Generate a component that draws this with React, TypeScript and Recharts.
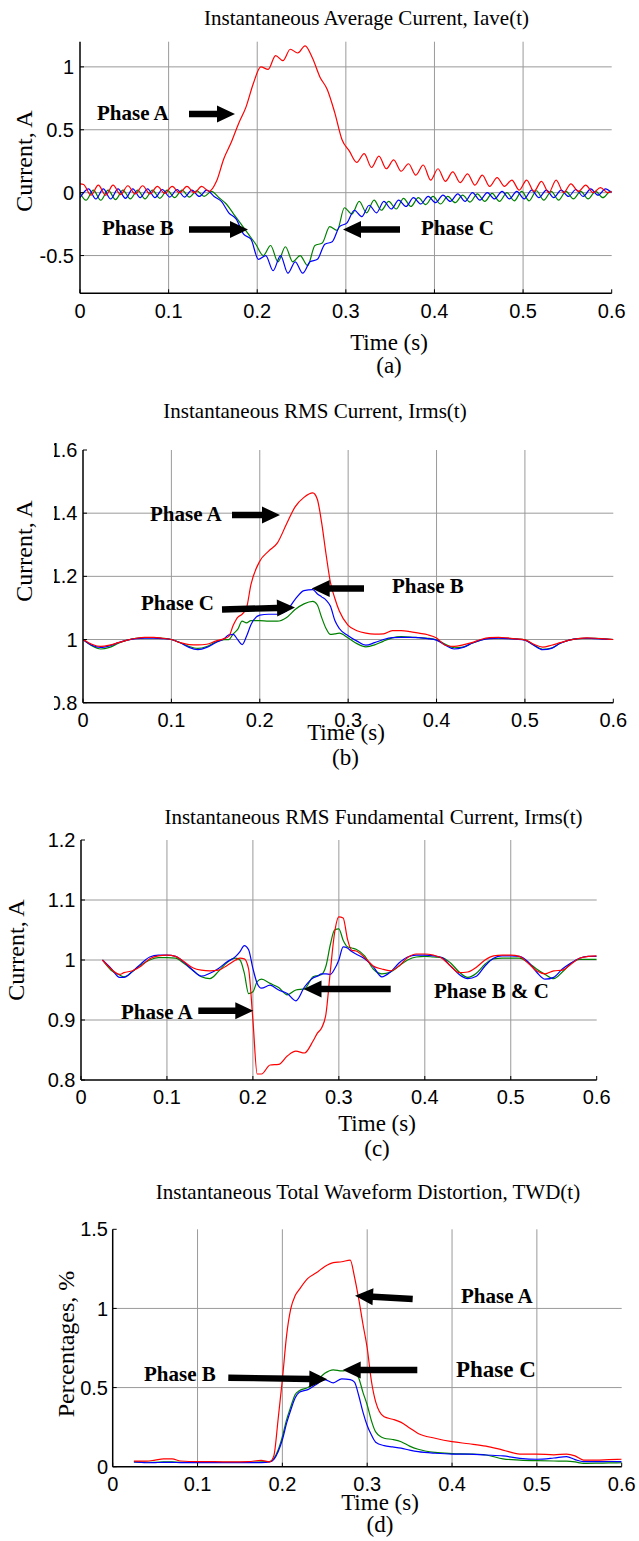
import React from "react";
import { LineChart, Line, XAxis, YAxis, ReferenceLine } from "recharts";

const W = 639;
const serif = "'Liberation Serif', 'Times New Roman', serif";
const sans = "'Liberation Sans', Arial, sans-serif";
const RED = "#ff0000";
const BLUE = "#0000ff";
const GREEN = "#008000";

const xTicks = [0, 0.1, 0.2, 0.3, 0.4, 0.5, 0.6];
const xGrid = [0.1, 0.2, 0.3, 0.4, 0.5];

// (a) Iave(t): ripple sampled at each phase's own peaks / troughs, [t, value]
const iaveA: [number, number][] = [
  [0, 0.07], [0.004, 0.065], [0.0123, -0.02], [0.0207, 0.06], [0.029, -0.02], [0.0373, 0.06], [0.0457, -0.015], [0.054, 0.055], [0.0623, -0.01], [0.0707, 0.055],
  [0.079, -0.01], [0.0873, 0.05], [0.0957, -0.005], [0.104, 0.05], [0.1123, 0.0], [0.1207, 0.05], [0.129, 0.0], [0.1373, 0.05], [0.1457, 0.01], [0.154, 0.09],
  [0.1623, 0.27], [0.1707, 0.4], [0.179, 0.55], [0.1873, 0.68], [0.1957, 0.87], [0.204, 1.0], [0.2123, 0.98], [0.2207, 1.09], [0.229, 1.05], [0.2373, 1.14],
  [0.2457, 1.11], [0.254, 1.167], [0.2623, 1.07], [0.2707, 0.92], [0.279, 0.82], [0.2873, 0.64], [0.2957, 0.42], [0.304, 0.33], [0.3123, 0.24], [0.3207, 0.31],
  [0.329, 0.2], [0.3373, 0.29], [0.3457, 0.19], [0.354, 0.26], [0.3623, 0.17], [0.3707, 0.23], [0.379, 0.14], [0.3873, 0.22], [0.3957, 0.1], [0.404, 0.19],
  [0.4123, 0.09], [0.4207, 0.165], [0.429, 0.08], [0.4373, 0.15], [0.4457, 0.06], [0.454, 0.14], [0.4623, 0.05], [0.4707, 0.12], [0.479, 0.05], [0.4873, 0.1],
  [0.4957, 0.02], [0.504, 0.1], [0.5123, 0.01], [0.5207, 0.09], [0.529, 0.0], [0.5373, 0.1], [0.5457, 0.0], [0.554, 0.07], [0.5623, 0.01], [0.5707, 0.06],
  [0.579, 0.0], [0.5873, 0.04], [0.5957, 0.0], [0.6, 0.01],
];
const iaveB: [number, number][] = [
  [0, -0.04], [0.0096, 0.03], [0.0179, -0.05], [0.0263, 0.03], [0.0346, -0.05], [0.0429, 0.03], [0.0513, -0.045], [0.0596, 0.03], [0.0679, -0.04], [0.0763, 0.03],
  [0.0846, -0.04], [0.0929, 0.025], [0.1013, -0.035], [0.1096, 0.025], [0.1179, -0.035], [0.1263, 0.02], [0.1346, -0.03], [0.1429, 0.02], [0.1513, -0.03], [0.1596, -0.07],
  [0.1679, -0.16], [0.1763, -0.21], [0.1846, -0.33], [0.1929, -0.37], [0.2013, -0.53], [0.2096, -0.5], [0.2179, -0.62], [0.2263, -0.5], [0.2346, -0.64], [0.2429, -0.55],
  [0.2513, -0.64], [0.2596, -0.55], [0.2679, -0.53], [0.2763, -0.41], [0.2846, -0.39], [0.2929, -0.27], [0.3013, -0.24], [0.3096, -0.14], [0.3179, -0.19], [0.3263, -0.1],
  [0.3346, -0.16], [0.3429, -0.07], [0.3513, -0.13], [0.3596, -0.06], [0.3679, -0.11], [0.3763, -0.04], [0.3846, -0.09], [0.3929, -0.03], [0.4013, -0.08], [0.4096, -0.02],
  [0.4179, -0.07], [0.4263, -0.01], [0.4346, -0.07], [0.4429, 0.0], [0.4513, -0.06], [0.4596, 0.0], [0.4679, -0.05], [0.4763, 0.01], [0.4846, -0.05], [0.4929, 0.01],
  [0.5013, -0.05], [0.5096, 0.02], [0.5179, -0.04], [0.5263, 0.02], [0.5346, -0.04], [0.5429, 0.02], [0.5513, -0.03], [0.5596, 0.025], [0.5679, -0.03], [0.5763, 0.03],
  [0.5846, -0.02], [0.5929, 0.03], [0.6, 0.0],
];
const iaveC: [number, number][] = [
  [0, 0.0], [0.0068, -0.06], [0.0151, 0.02], [0.0234, -0.06], [0.0318, 0.02], [0.0401, -0.055], [0.0484, 0.02], [0.0568, -0.05], [0.0651, 0.02], [0.0734, -0.05],
  [0.0818, 0.02], [0.0901, -0.045], [0.0984, 0.02], [0.1068, -0.04], [0.1151, 0.02], [0.1234, -0.035], [0.1318, 0.015], [0.1401, -0.03], [0.1484, 0.01], [0.1568, -0.04],
  [0.1651, -0.09], [0.1734, -0.17], [0.1818, -0.25], [0.1901, -0.33], [0.1984, -0.41], [0.2068, -0.5], [0.2151, -0.42], [0.2234, -0.55], [0.2318, -0.43], [0.2401, -0.55],
  [0.2484, -0.5], [0.2568, -0.58], [0.2651, -0.42], [0.2734, -0.4], [0.2818, -0.27], [0.2901, -0.3], [0.2984, -0.12], [0.3068, -0.17], [0.3151, -0.07], [0.3234, -0.16],
  [0.3318, -0.06], [0.3401, -0.14], [0.3484, -0.07], [0.3568, -0.13], [0.3651, -0.045], [0.3734, -0.11], [0.3818, -0.04], [0.3901, -0.095], [0.3984, -0.03], [0.4068, -0.09],
  [0.4151, -0.03], [0.4234, -0.08], [0.4318, -0.02], [0.4401, -0.075], [0.4484, -0.01], [0.4568, -0.07], [0.4651, -0.005], [0.4734, -0.07], [0.4818, 0.0], [0.4901, -0.065],
  [0.4984, 0.01], [0.5068, -0.065], [0.5151, 0.015], [0.5234, -0.06], [0.5318, 0.01], [0.5401, -0.06], [0.5484, 0.01], [0.5568, -0.05], [0.5651, 0.01], [0.5734, -0.05],
  [0.5818, 0.01], [0.5901, -0.04], [0.5984, 0.01], [0.6, 0.005],
];

// (b) Irms(t)
const tRms = [
  0, 0.01, 0.02, 0.03, 0.04, 0.05, 0.06, 0.07, 0.08, 0.09,
  0.1, 0.11, 0.12, 0.13, 0.14, 0.15, 0.16, 0.165, 0.17, 0.175,
  0.18, 0.185, 0.19, 0.2, 0.21, 0.22, 0.23, 0.24, 0.25, 0.26,
  0.265, 0.27, 0.275, 0.28, 0.285, 0.29, 0.3, 0.31, 0.32, 0.33,
  0.34, 0.35, 0.36, 0.37, 0.38, 0.39, 0.4, 0.41, 0.42, 0.43,
  0.44, 0.45, 0.46, 0.47, 0.48, 0.49, 0.5, 0.51, 0.52, 0.53,
  0.54, 0.55, 0.56, 0.57, 0.58, 0.59, 0.6,
];
const rmsA = [
  1.0, 0.985, 0.978, 0.982, 0.99, 0.998, 1.004, 1.007, 1.007, 1.004,
  1.0, 0.99, 0.984, 0.983, 0.985, 0.995, 1.003, 1.01, 1.045, 1.07,
  1.08, 1.1, 1.174, 1.248, 1.28, 1.306, 1.364, 1.42, 1.45, 1.464,
  1.445, 1.37, 1.27, 1.18, 1.13, 1.09, 1.045, 1.028, 1.02, 1.017,
  1.018, 1.028, 1.028, 1.025, 1.02, 1.015, 1.005, 0.982, 0.978, 0.983,
  0.99, 1.0, 1.006, 1.007, 1.005, 1.002, 0.999, 0.985, 0.976, 0.982,
  0.99, 0.998, 1.003, 1.005, 1.004, 1.002, 1.0,
];
const rmsB = [
  1.0, 0.982, 0.975, 0.98, 0.99, 0.998, 1.003, 1.004, 1.004, 1.003,
  1.0, 0.99, 0.975, 0.968, 0.975, 0.99, 1.003, 1.015, 1.016, 1.0,
  0.984, 1.01, 1.047, 1.077, 1.08, 1.08, 1.09, 1.127, 1.155, 1.158,
  1.145, 1.135, 1.125, 1.105, 1.06, 1.035, 1.012, 0.995, 0.982, 0.99,
  1.0, 1.006, 1.007, 1.007, 1.006, 1.003, 0.998, 0.982, 0.97, 0.975,
  0.988, 0.998, 1.003, 1.004, 1.003, 1.001, 0.998, 0.982, 0.968, 0.972,
  0.988, 0.998, 1.003, 1.004, 1.003, 1.001, 1.0,
];
const rmsC = [
  1.0, 0.98, 0.97, 0.975, 0.988, 0.998, 1.004, 1.006, 1.006, 1.004,
  1.0, 0.99, 0.978, 0.972, 0.978, 0.992, 1.0, 1.0, 1.018, 1.032,
  1.058, 1.053, 1.06, 1.06, 1.058, 1.058, 1.069, 1.095, 1.113, 1.121,
  1.11, 1.07, 1.035, 1.016, 1.018, 1.02, 1.005, 0.987, 0.977, 0.983,
  0.995, 1.005, 1.009, 1.008, 1.006, 1.004, 0.999, 0.985, 0.974, 0.976,
  0.988, 0.998, 1.004, 1.005, 1.004, 1.002, 0.999, 0.983, 0.969, 0.973,
  0.988, 0.998, 1.003, 1.004, 1.004, 1.002, 1.0,
];

// (c) fundamental Irms(t)
const tFund = [
  0.025, 0.035, 0.045, 0.05, 0.06, 0.07, 0.08, 0.09, 0.1, 0.11,
  0.12, 0.13, 0.14, 0.15, 0.16, 0.17, 0.18, 0.185, 0.19, 0.195,
  0.2, 0.205, 0.21, 0.22, 0.23, 0.24, 0.25, 0.26, 0.27, 0.275,
  0.28, 0.285, 0.29, 0.295, 0.3, 0.305, 0.31, 0.315, 0.32, 0.33,
  0.34, 0.35, 0.36, 0.37, 0.38, 0.39, 0.4, 0.41, 0.42, 0.43,
  0.44, 0.45, 0.46, 0.47, 0.48, 0.49, 0.5, 0.51, 0.52, 0.53,
  0.54, 0.55, 0.56, 0.57, 0.58, 0.59, 0.6,
];
const fundA = [
  1.0, 0.985, 0.976, 0.979, 0.982, 0.99, 1.002, 1.007, 1.008, 1.006,
  0.997, 0.987, 0.983, 0.982, 0.983, 0.991, 1.0, 1.003, 1.002, 0.985,
  0.9, 0.81, 0.81, 0.825, 0.826, 0.84, 0.848, 0.845, 0.865, 0.878,
  0.887, 0.91, 0.98, 1.045, 1.072, 1.07, 1.035, 1.016, 1.015, 1.004,
  0.99, 0.985, 0.982, 0.99, 1.004, 1.01, 1.01, 1.008, 1.003, 0.99,
  0.979, 0.98, 0.988, 1.0, 1.007, 1.008, 1.008, 1.006, 0.995, 0.982,
  0.977, 0.982, 0.983, 0.993, 1.003, 1.006, 1.007,
];
const fundB = [
  1.0, 0.986, 0.971, 0.971, 0.981, 0.994, 1.005, 1.008, 1.008, 1.006,
  0.996, 0.983, 0.973, 0.978, 0.986, 0.997, 1.006, 1.014, 1.024, 1.017,
  0.986, 0.961, 0.953, 0.958, 0.95, 0.944, 0.932, 0.955, 0.97, 0.973,
  0.977, 0.977, 0.976, 0.985, 1.0, 1.022, 1.02, 1.014, 1.01, 1.002,
  0.989, 0.972, 0.98, 0.995, 1.005, 1.008, 1.008, 1.007, 1.004, 0.99,
  0.976, 0.969, 0.973, 0.99, 1.003, 1.007, 1.007, 1.006, 0.997, 0.98,
  0.968, 0.971, 0.985, 0.995, 1.003, 1.006, 1.006,
];
const fundC = [
  1.0, 0.983, 0.975, 0.972, 0.981, 0.992, 1.0, 1.004, 1.004, 1.003,
  0.994, 0.983, 0.972, 0.969, 0.981, 0.996, 1.003, 1.0, 0.978, 0.944,
  0.947, 0.964, 0.968, 0.961, 0.954, 0.942, 0.95, 0.952, 0.972, 0.974,
  0.976, 0.99, 1.025, 1.05, 1.052, 1.033, 1.022, 1.02, 1.018, 1.007,
  0.985, 0.977, 0.98, 0.99, 1.0, 1.005, 1.006, 1.005, 1.004, 0.995,
  0.98, 0.971, 0.978, 0.993, 1.002, 1.003, 1.003, 1.003, 0.996, 0.985,
  0.976, 0.969, 0.98, 0.994, 1.001, 1.001, 1.001,
];

// (d) TWD(t), %
const tTwd = [
  0.025, 0.04, 0.05, 0.06, 0.07, 0.08, 0.1, 0.12, 0.14, 0.16,
  0.175, 0.185, 0.19, 0.195, 0.2, 0.205, 0.21, 0.215, 0.22, 0.23,
  0.24, 0.25, 0.26, 0.27, 0.28, 0.285, 0.29, 0.295, 0.3, 0.305,
  0.31, 0.32, 0.33, 0.34, 0.35, 0.36, 0.38, 0.4, 0.42, 0.44,
  0.46, 0.48, 0.5, 0.52, 0.535, 0.545, 0.555, 0.57, 0.585, 0.6,
];
const twdA = [
  0.035, 0.035, 0.042, 0.049, 0.049, 0.036, 0.032, 0.032, 0.03, 0.032,
  0.04, 0.03, 0.07, 0.3, 0.55, 0.83, 1.0, 1.08, 1.12, 1.19,
  1.225, 1.265, 1.29, 1.295, 1.305, 1.2, 1.06, 0.9, 0.75, 0.54,
  0.41, 0.315, 0.3, 0.28, 0.245, 0.21, 0.18, 0.158, 0.145, 0.13,
  0.105, 0.08, 0.08, 0.075, 0.08, 0.068, 0.042, 0.042, 0.045, 0.047,
];
const twdB = [
  0.03, 0.025, 0.026, 0.027, 0.027, 0.026, 0.026, 0.026, 0.026, 0.026,
  0.026, 0.03, 0.047, 0.095, 0.17, 0.275, 0.36, 0.434, 0.47, 0.487,
  0.52, 0.55, 0.53, 0.555, 0.55, 0.535, 0.45, 0.345, 0.26, 0.2,
  0.155, 0.133, 0.125, 0.117, 0.105, 0.095, 0.085, 0.08, 0.08, 0.074,
  0.068, 0.053, 0.047, 0.055, 0.064, 0.045, 0.032, 0.032, 0.033, 0.032,
];
const twdC = [
  0.03, 0.028, 0.028, 0.03, 0.03, 0.028, 0.028, 0.028, 0.028, 0.028,
  0.03, 0.032, 0.053, 0.106, 0.19, 0.297, 0.38, 0.455, 0.48, 0.5,
  0.54, 0.59, 0.612, 0.605, 0.612, 0.6, 0.56, 0.47, 0.39, 0.29,
  0.22, 0.18, 0.172, 0.158, 0.13, 0.11, 0.09, 0.083, 0.08, 0.074,
  0.05, 0.042, 0.038, 0.036, 0.035, 0.03, 0.021, 0.022, 0.024, 0.025,
];

const pairs = (pts: [number, number][]) => pts.map(([t, v]) => ({ t, v }));
const rows = (t: number[], a: number[], b: number[], c: number[]) =>
  t.map((x, i) => ({ t: x, a: a[i], b: b[i], c: c[i] }));

const tickFont = { fill: "#000", fontSize: 20, fontFamily: sans };
const axisStroke = { stroke: "#000", strokeWidth: 1.5 };

type Box = { l: number; r: number; t: number; b: number };

function Panel(props: {
  top: number;
  height: number;
  box: Box;
  yDomain: [number, number];
  yTicks: number[];
  yGrid: number[];
  data?: any[];
  frameTop?: boolean;
  yGap?: number;
  children: React.ReactNode;
}) {
  const { top, height, box, yDomain, yTicks, yGrid, data, frameTop = true, yGap = 5.5, children } = props;
  const XH = 30;
  const margin = { top: box.t - top, right: W - box.r, left: 0, bottom: top + height - box.b - XH };
  return (
    <LineChart width={W} height={height} data={data} margin={margin}>
      {xGrid.map((x) => (
        <ReferenceLine key={"x" + x} x={x} stroke="#9a9a9a" strokeWidth={1} />
      ))}
      {yGrid.map((y) => (
        <ReferenceLine key={"y" + y} y={y} stroke="#9a9a9a" strokeWidth={1} />
      ))}
      <XAxis type="number" dataKey="t" domain={[0, 0.6]} ticks={xTicks} height={XH}
        axisLine={axisStroke} tickLine={{ stroke: "#000" }} tickSize={-4} tickMargin={14}
        tick={tickFont} interval={0} allowDataOverflow />
      <XAxis xAxisId="top" orientation="top" type="number" dataKey="t" domain={[0, 0.6]} ticks={xTicks}
        height={0} axisLine={frameTop ? axisStroke : false} tickLine={{ stroke: "#000" }} tickSize={-4} tick={false} />
      <YAxis type="number" domain={yDomain} ticks={yTicks} width={box.l} interval={0}
        axisLine={axisStroke} tickLine={{ stroke: "#000" }} tickSize={-4} tickMargin={4 + yGap}
        tick={tickFont} allowDataOverflow />
      <YAxis yAxisId="right" orientation="right" type="number" domain={yDomain} ticks={yTicks} width={0}
        axisLine={axisStroke} tickLine={{ stroke: "#000" }} tickSize={-4} tick={false} />
      {children}
    </LineChart>
  );
}

function arrow(x1: number, y1: number, x2: number, y2: number) {
  const dx = x2 - x1;
  const dy = y2 - y1;
  const len = Math.hypot(dx, dy);
  const ux = dx / len;
  const uy = dy / len;
  const nx = -uy;
  const ny = ux;
  const hl = 18;
  const hw = 8.5;
  const sw = 3.2;
  const bx = x2 - ux * hl;
  const by = y2 - uy * hl;
  const p = [
    [x1 + nx * sw, y1 + ny * sw],
    [bx + nx * sw, by + ny * sw],
    [bx + nx * hw, by + ny * hw],
    [x2, y2],
    [bx - nx * hw, by - ny * hw],
    [bx - nx * sw, by - ny * sw],
    [x1 - nx * sw, y1 - ny * sw],
  ];
  return <polygon points={p.map((q) => q.join(",")).join(" ")} fill="#000" />;
}

const lineProps = { type: "monotone" as const, dot: false, strokeWidth: 1.2, isAnimationActive: false };

export default function App() {
  const abs = (left: number, top: number): React.CSSProperties => ({ position: "absolute", left, top });
  const phase = { fontFamily: serif, fontWeight: 700, fontSize: 21, fill: "#000" };
  const title = { fontFamily: serif, fontSize: 21, fill: "#000", textAnchor: "middle" as const };
  const lab = { fontFamily: serif, fontSize: 23, fill: "#000", textAnchor: "middle" as const };
  const ylab = { fontFamily: serif, fontSize: 24, fill: "#000", textAnchor: "middle" as const };

  return (
    <div style={{ position: "absolute", left: 0, top: 0, width: W, height: 1541, background: "#fff", overflow: "hidden" }}>
      {/* (a) */}
      <div style={abs(0, 0)}>
        <Panel top={0} height={380} box={{ l: 80, r: 611.7, t: 41.7, b: 293.3 }} yDomain={[-0.8, 1.2]}
          yTicks={[-0.5, 0, 0.5, 1]} yGrid={[-0.5, 0, 0.5, 1]} yGap={6}>
          <Line {...lineProps} data={pairs(iaveC)} dataKey="v" stroke={GREEN} />
          <Line {...lineProps} data={pairs(iaveB)} dataKey="v" stroke={BLUE} />
          <Line {...lineProps} data={pairs(iaveA)} dataKey="v" stroke={RED} />
        </Panel>
      </div>

      {/* (b) - tick labels clipped on the left like the original */}
      <div style={{ position: "absolute", left: 54, top: 390, width: W - 54, height: 380, overflow: "hidden" }}>
        <div style={abs(-54, 0)}>
          <Panel top={390} height={380} box={{ l: 83, r: 613.3, t: 450, b: 702.7 }} yDomain={[0.8, 1.6]}
            yTicks={[0.8, 1, 1.2, 1.4, 1.6]} yGrid={[1, 1.2, 1.4]} data={rows(tRms, rmsA, rmsB, rmsC)}>
            <Line {...lineProps} dataKey="c" stroke={GREEN} />
            <Line {...lineProps} dataKey="b" stroke={BLUE} />
            <Line {...lineProps} dataKey="a" stroke={RED} />
          </Panel>
        </div>
      </div>

      {/* (c) */}
      <div style={abs(0, 780)}>
        <Panel top={780} height={380} box={{ l: 81, r: 596.7, t: 840, b: 1080 }} yDomain={[0.8, 1.2]}
          yTicks={[0.8, 0.9, 1, 1.1, 1.2]} yGrid={[0.9, 1, 1.1]} frameTop={false} data={rows(tFund, fundA, fundB, fundC)}>
          <Line {...lineProps} dataKey="c" stroke={GREEN} />
          <Line {...lineProps} dataKey="b" stroke={BLUE} />
          <Line {...lineProps} dataKey="a" stroke={RED} />
        </Panel>
      </div>

      {/* (d) */}
      <div style={abs(0, 1150)}>
        <Panel top={1150} height={391} box={{ l: 112.7, r: 621.7, t: 1229.3, b: 1466.7 }} yDomain={[0, 1.5]}
          yTicks={[0, 0.5, 1, 1.5]} yGrid={[0.5, 1]} yGap={4.7} data={rows(tTwd, twdA, twdB, twdC)}>
          <Line {...lineProps} dataKey="c" stroke={GREEN} />
          <Line {...lineProps} dataKey="b" stroke={BLUE} />
          <Line {...lineProps} dataKey="a" stroke={RED} />
        </Panel>
      </div>

      {/* titles, axis labels, annotations */}
      <svg width={W} height={1541} style={{ position: "absolute", left: 0, top: 0, pointerEvents: "none" }}>
        <text x={366.5} y={25} {...title}>Instantaneous Average Current, Iave(t)</text>
        <text x={315} y={418} {...title}>Instantaneous RMS Current, Irms(t)</text>
        <text x={373.5} y={824} {...title}>Instantaneous RMS Fundamental Current, Irms(t)</text>
        <text x={368} y={1199} {...title}>Instantaneous Total Waveform Distortion, TWD(t)</text>

        <text x={389} y={350} {...lab}>Time (s)</text>
        <text x={389} y={373} {...lab}>(a)</text>
        <text x={346} y={740} {...lab}>Time (s)</text>
        <text x={345.5} y={765} {...lab}>(b)</text>
        <text x={377} y={1131} {...lab}>Time (s)</text>
        <text x={377} y={1156} {...lab}>(c)</text>
        <text x={380} y={1510} {...lab}>Time (s)</text>
        <text x={380} y={1532} {...lab}>(d)</text>

        <text x={32} y={161} {...ylab} transform="rotate(-90 32 161)">Current, A</text>
        <text x={32} y={551} {...ylab} transform="rotate(-90 32 551)">Current, A</text>
        <text x={24} y={950} {...ylab} transform="rotate(-90 24 950)">Current, A</text>
        <text x={74} y={1344} {...ylab} transform="rotate(-90 74 1344)">Percentages, %</text>

        <text x={97} y={119.5} {...phase}>Phase A</text>
        {arrow(189, 114, 235, 114)}
        <text x={102} y={235} {...phase}>Phase B</text>
        {arrow(189, 229.5, 248, 229.5)}
        <text x={421} y={235} {...phase}>Phase C</text>
        {arrow(400, 229.5, 343, 229.5)}

        <text x={150} y={520.5} {...phase}>Phase A</text>
        {arrow(232, 515, 280, 515)}
        <text x={141} y={610} {...phase}>Phase C</text>
        {arrow(222, 609.5, 295, 607.5)}
        <text x={392} y={593} {...phase}>Phase B</text>
        {arrow(364, 588.5, 311.7, 588.5)}

        <text x={121} y={1019} {...phase}>Phase A</text>
        {arrow(198.3, 1010.7, 253.3, 1010.7)}
        <text x={434} y={998} {...phase}>Phase B &amp; C</text>
        {arrow(390.7, 989, 303.5, 989)}

        <text x={461} y={1303} {...phase}>Phase A</text>
        {arrow(412.7, 1299, 355, 1295.7)}
        <text x={456} y={1376.5} {...phase} fontSize={23}>Phase C</text>
        {arrow(417.3, 1370, 342.7, 1370)}
        <text x={144} y={1380.5} {...phase}>Phase B</text>
        {arrow(228.3, 1377.7, 327.3, 1379.3)}
      </svg>
    </div>
  );
}
